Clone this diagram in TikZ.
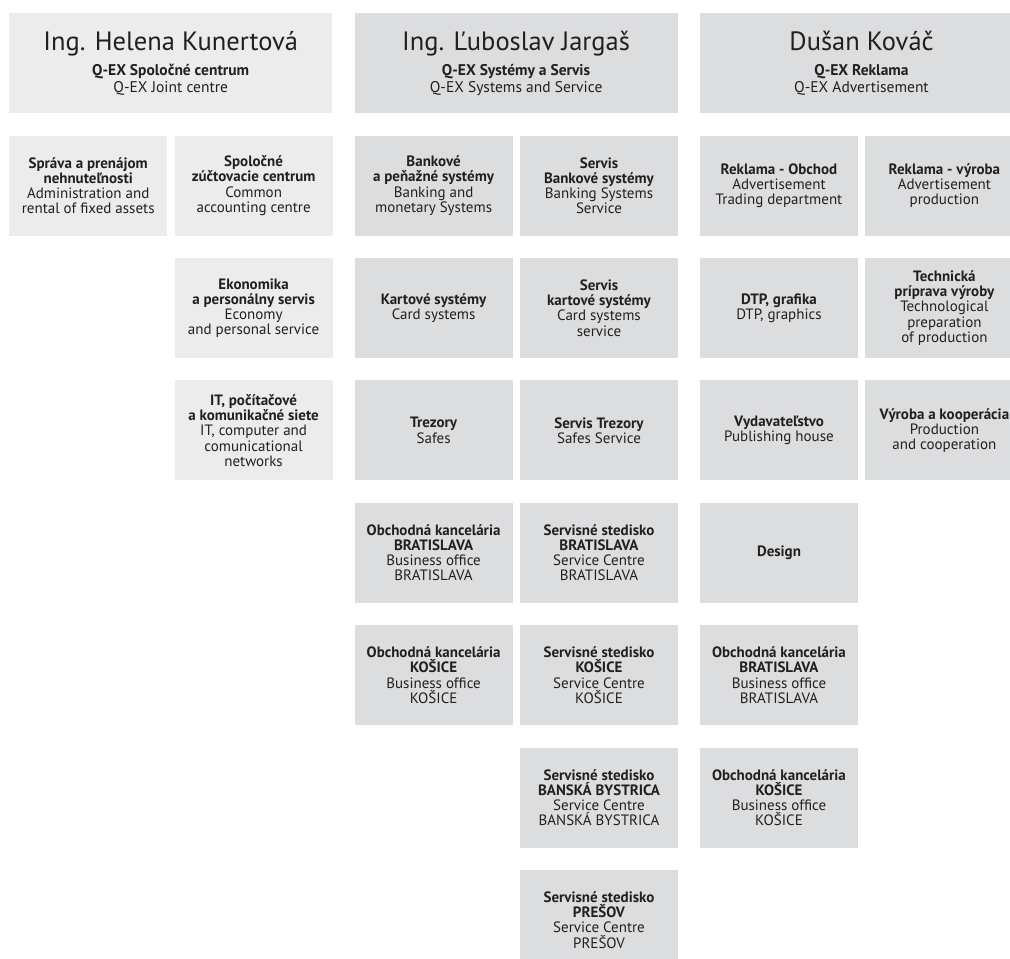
\documentclass[tikz,border=0pt]{standalone}
\usepackage{fontspec}
\setmainfont{PT Sans}
\usetikzlibrary{positioning}
\definecolor{paleA}{HTML}{EBECEB}
\definecolor{paleB}{HTML}{DCDDDF}
\definecolor{ink}{HTML}{231F20}
\newcommand{\bossname}[1]{{\fontsize{26.5}{30}\selectfont #1}}

\begin{document}
\begin{tikzpicture}[node distance=22pt,
  head/.style={minimum width=323pt,minimum height=100pt,inner sep=0pt,align=center,text=ink,font=\fontsize{15.5}{17}\selectfont},
  unit/.style={minimum width=158pt,minimum height=100pt,inner sep=0pt,align=center,text=ink,font=\fontsize{15}{15.2}\selectfont},
  light/.style={fill=paleA},
  dark/.style={fill=paleB}]
\useasboundingbox (0,0) rectangle (1010pt,-959pt);

\node[head,light,anchor=north west] (h1) at (9pt,-13pt) {\bossname{Ing. Helena Kunertová}\\[8pt]\textbf{Q-EX Spoločné centrum}\\Q-EX Joint centre};
\node[head,dark,right=22pt of h1] (h2) {\bossname{Ing. Ľuboslav Jargaš}\\[8pt]\textbf{Q-EX Systémy a Servis}\\Q-EX Systems and Service};
\node[head,dark,right=22pt of h2] (h3) {\bossname{Dušan Kováč}\\[8pt]\textbf{Q-EX Reklama}\\Q-EX Advertisement};

% Kunertova
\node[unit,light,below right=22pt and 0pt of h1.south west] (e1) {\textbf{Správa a prenájom}\\\textbf{nehnuteľnosti}\\Administration and\\rental of fixed assets};
\node[unit,light,right=7pt of e1] (e2) {\textbf{Spoločné}\\\textbf{zúčtovacie centrum}\\Common\\accounting centre};
\node[unit,light,below=22pt of e2] (e4) {\textbf{Ekonomika}\\\textbf{a personálny servis}\\Economy\\and personal service};
\node[unit,light,below=22pt of e4] (e6) {\textbf{IT, počítačové}\\\textbf{a komunikačné siete}\\IT, computer and\\comunicational\\networks};

% Jargas
\node[unit,dark,below right=22pt and 0pt of h2.south west] (j1) {\textbf{Bankové}\\\textbf{a peňažné systémy}\\Banking and\\monetary Systems};
\node[unit,dark,right=7pt of j1] (j2) {\textbf{Servis}\\\textbf{Bankové systémy}\\Banking Systems\\Service};
\node[unit,dark,below=22pt of j1] (j3) {\textbf{Kartové systémy}\\Card systems};
\node[unit,dark,below=22pt of j2] (j4) {\textbf{Servis}\\\textbf{kartové systémy}\\Card systems\\service};
\node[unit,dark,below=22pt of j3] (j5) {\textbf{Trezory}\\Safes};
\node[unit,dark,below=22pt of j4] (j6) {\textbf{Servis Trezory}\\Safes Service};
\node[unit,dark,below=22pt of j5] (j7) {\textbf{Obchodná kancelária}\\\textbf{BRATISLAVA}\\Business office\\BRATISLAVA};
\node[unit,dark,below=22pt of j6] (j8) {\textbf{Servisné stedisko}\\\textbf{BRATISLAVA}\\Service Centre\\BRATISLAVA};
\node[unit,dark,below=22pt of j7] (j9) {\textbf{Obchodná kancelária}\\\textbf{KOŠICE}\\Business office\\KOŠICE};
\node[unit,dark,below=22pt of j8] (j10) {\textbf{Servisné stedisko}\\\textbf{KOŠICE}\\Service Centre\\KOŠICE};
\node[unit,dark,below=22pt of j10] (j12) {\textbf{Servisné stedisko}\\\textbf{BANSKÁ BYSTRICA}\\Service Centre\\BANSKÁ BYSTRICA};
\node[unit,dark,below=22pt of j12] (j14) {\textbf{Servisné stedisko}\\\textbf{PREŠOV}\\Service Centre\\PREŠOV};

% Kovac
\node[unit,dark,below right=22pt and 0pt of h3.south west] (k1) {\textbf{Reklama - Obchod}\\Advertisement\\Trading department};
\node[unit,dark,right=7pt of k1] (k2) {\textbf{Reklama - výroba}\\Advertisement\\production};
\node[unit,dark,below=22pt of k1] (k3) {\textbf{DTP, grafika}\\DTP, graphics};
\node[unit,dark,below=22pt of k2] (k4) {\textbf{Technická}\\\textbf{príprava výroby}\\Technological\\preparation\\of production};
\node[unit,dark,below=22pt of k3] (k5) {\textbf{Vydavateľstvo}\\Publishing house};
\node[unit,dark,below=22pt of k4] (k6) {\textbf{Výroba a kooperácia}\\Production\\and cooperation};
\node[unit,dark,below=22pt of k5] (k7) {\textbf{Design}};
\node[unit,dark,below=22pt of k7] (k9) {\textbf{Obchodná kancelária}\\\textbf{BRATISLAVA}\\Business office\\BRATISLAVA};
\node[unit,dark,below=22pt of k9] (k11) {\textbf{Obchodná kancelária}\\\textbf{KOŠICE}\\Business office\\KOŠICE};
    %
\end{tikzpicture}
\end{document}
